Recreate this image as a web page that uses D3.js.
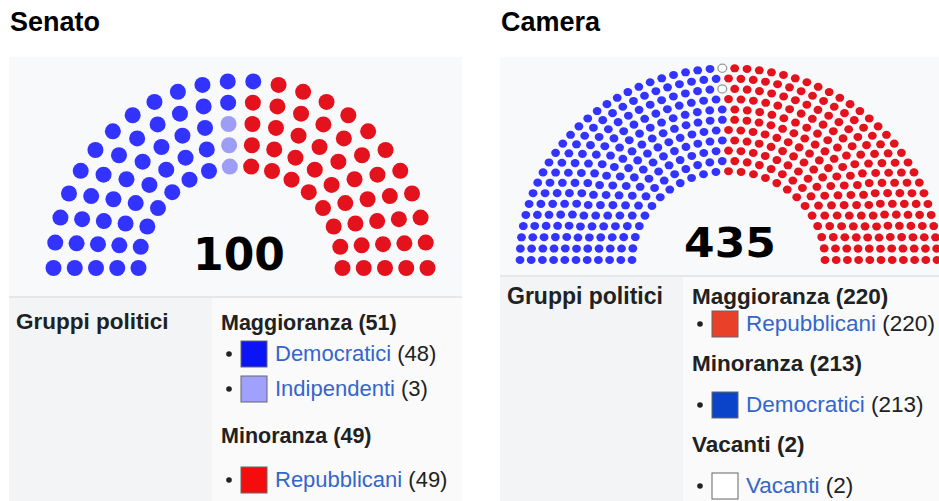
<!DOCTYPE html>
<html>
<head>
<meta charset="utf-8">
<script src="https://cdn.jsdelivr.net/npm/d3@7"></script>
<style>
  body { margin: 0; background: #fff; }
  svg text { font-family: "Liberation Sans", Arial, sans-serif; fill: #202122; }
  .title { font-size: 27px; font-weight: bold; fill: #000; }
  .head { font-weight: bold; }
  .link { fill: #3366cc; }
  .total { font-family: "DejaVu Sans", sans-serif; font-weight: bold; font-size: 44px; fill: #000; }
</style>
</head>
<body>
<div id="chart"></div>
<script>
// Senato
var senateParties = ["Democratici", "Indipendenti", "Repubblicani"]
var senateSeats = [48, 3, 49]
// seats per ring, outer ring first, and how each ring is split between the parties (left to right)
var senateRings = [24, 22, 20, 18, 16]
var senateRingSplit = [[13, 0, 11], [11, 0, 11], [9, 1, 10], [8, 1, 9], [7, 1, 8]]
var senateBlocs = ["Maggioranza", "Minoranza"]
var senateBlocSeats = [51, 49]
var senateBlocParties = [[0, 1], [2]]

// Camera
var houseParties = ["Democratici", "Vacanti", "Repubblicani"]
var houseSeats = [213, 2, 220]
var houseRings = [54, 51, 48, 45, 42, 40, 37, 34, 31, 28, 25]
var houseBlocs = ["Maggioranza", "Minoranza", "Vacanti"]
var houseBlocSeats = [220, 213, 2]
var houseBlocParties = [[2], [0], [1]]

var width = 939,
  height = 501

var svg = d3.select("#chart")
  .append("svg")
  .attr("width", width)
  .attr("height", height)

function seatLayout(rings, innerRatio) {
  var ringR = d3.scaleLinear().domain([0, rings.length - 1]).range([1, innerRatio])
  var seats = []
  rings.forEach(function (n, k) {
    var angle = d3.scaleLinear().domain([0, n - 1]).range([Math.PI, 0])
    d3.range(n).forEach(function (j) {
      seats.push({ ring: k, index: j, angle: angle(j), r: ringR(k) })
    })
  })
  return seats
}

// party of each seat from a per-ring split
function assignBySplit(seats, split) {
  seats.forEach(function (s) {
    var cum = d3.cumsum(split[s.ring])
    s.party = d3.bisectRight(cum, s.index)
  })
}

// party of each seat from the seat order, left to right
function assignByAngle(seats, counts) {
  var cum = d3.cumsum(counts)
  seats.slice().sort(function (a, b) {
    return b.angle - a.angle || a.ring - b.ring
  }).forEach(function (s, i) {
    s.party = d3.bisectRight(cum, i)
  })
}

function drawChamber(cfg) {
  var g = svg.append("g")

  g.append("text")
    .attr("class", "title")
    .attr("x", cfg.left + 1)
    .attr("y", 31)
    .text(cfg.title)

  g.append("rect")
    .attr("x", cfg.left)
    .attr("y", 57)
    .attr("width", cfg.right - cfg.left)
    .attr("height", height - 57)
    .attr("fill", "#f8f9fa")

  g.append("rect")
    .attr("x", cfg.left)
    .attr("y", cfg.tableTop)
    .attr("width", cfg.split - cfg.left)
    .attr("height", height - cfg.tableTop)
    .attr("fill", "#f3f4f5")

  g.append("rect")
    .attr("x", cfg.split)
    .attr("y", cfg.tableTop)
    .attr("width", cfg.right - cfg.split)
    .attr("height", height - cfg.tableTop)
    .attr("fill", "#fafafa")

  g.append("line")
    .attr("x1", cfg.left)
    .attr("x2", cfg.right)
    .attr("y1", cfg.tableTop)
    .attr("y2", cfg.tableTop)
    .attr("stroke", "#e6e7e9")
    .attr("stroke-width", 2)

  var x = d3.scaleLinear().domain([-1, 1]).range([cfg.cx - cfg.R, cfg.cx + cfg.R])
  var y = d3.scaleLinear().domain([0, 1]).range([cfg.cy, cfg.cy - cfg.R * cfg.squish])

  g.selectAll(".seat")
    .data(cfg.seats)
    .enter()
    .append("ellipse")
    .attr("class", "seat")
    .attr("cx", function (d) {
      return x(d.r * Math.cos(d.angle))
    })
    .attr("cy", function (d) {
      return y(d.r * Math.sin(d.angle))
    })
    .attr("rx", cfg.dot)
    .attr("ry", cfg.dot * cfg.squish)
    .attr("fill", function (d) {
      return cfg.seatColors[d.party]
    })
    .attr("stroke", function (d) {
      return cfg.seatStroke[d.party]
    })
    .attr("stroke-width", 1.3)

  g.append("text")
    .attr("class", "total")
    .attr("text-anchor", "middle")
    .attr("transform", "translate(" + cfg.totalX + "," + cfg.totalY + ") scale(1," + cfg.squish + ")")
    .text(d3.sum(cfg.counts))

  g.append("text")
    .attr("class", "head")
    .attr("x", cfg.left + 7)
    .attr("y", cfg.groupsY)
    .style("font-size", cfg.groupsSize + "px")
    .text("Gruppi politici")

  var ypos = cfg.firstHead
  cfg.blocs.forEach(function (bloc, b) {
    g.append("text")
      .attr("class", "head")
      .attr("x", cfg.split + 9)
      .attr("y", ypos)
      .style("font-size", cfg.headSize + "px")
      .text(bloc + " (" + cfg.blocSeats[b] + ")")
    ypos += b === 0 ? cfg.tightGap : cfg.looseGap
    cfg.blocParties[b].forEach(function (p, i) {
      if (i > 0) ypos += cfg.itemStep
      var row = g.append("g").attr("transform", "translate(" + (cfg.split + 17) + "," + ypos + ")")
      row.append("circle").attr("r", 2.8).attr("fill", "#202122")
      row.append("rect")
        .attr("x", 12)
        .attr("y", -13)
        .attr("width", 26)
        .attr("height", 26)
        .attr("fill", cfg.swatchColors[p])
        .attr("stroke", "#666")
        .attr("stroke-width", 1)
      var t = row.append("text")
        .attr("x", 46)
        .attr("y", 7)
        .style("font-size", cfg.itemSize + "px")
      t.append("tspan").attr("class", "link").text(cfg.parties[p])
      t.append("tspan").text(" (" + cfg.counts[p] + ")")
    })
    ypos += cfg.blocGap
  })
}

var senateLayout = seatLayout(senateRings, 102 / 187)
assignBySplit(senateLayout, senateRingSplit)

drawChamber({
  title: "Senato",
  left: 9, right: 462, split: 212, tableTop: 297,
  cx: 240.5, cy: 268, R: 187, squish: 1, dot: 8,
  seats: senateLayout,
  seatColors: ["#3333ff", "#9d9df5", "#e3121c"],
  seatStroke: ["none", "none", "none"],
  totalX: 239, totalY: 270,
  counts: senateSeats,
  parties: senateParties,
  swatchColors: ["#0a14f5", "#a0a0ff", "#f50d0d"],
  blocs: senateBlocs, blocSeats: senateBlocSeats, blocParties: senateBlocParties,
  groupsSize: 22.5, headSize: 21.5, itemSize: 22,
  groupsY: 329, firstHead: 330, tightGap: 24, looseGap: 37, itemStep: 35, blocGap: 54
})

var houseLayout = seatLayout(houseRings, 96.5 / 208.5)
assignByAngle(houseLayout, houseSeats)

drawChamber({
  title: "Camera",
  left: 500, right: 945, split: 683, tableTop: 276,
  cx: 728.5, cy: 260, R: 208.5, squish: 0.92, dot: 4.4,
  seats: houseLayout,
  seatColors: ["#3333ff", "#ffffff", "#e3121c"],
  seatStroke: ["none", "#999", "none"],
  totalX: 730, totalY: 257,
  counts: houseSeats,
  parties: houseParties,
  swatchColors: ["#0b44c8", "#ffffff", "#e9402a"],
  blocs: houseBlocs, blocSeats: houseBlocSeats, blocParties: houseBlocParties,
  groupsSize: 23, headSize: 22.5, itemSize: 22.5,
  groupsY: 304, firstHead: 304, tightGap: 20, looseGap: 34, itemStep: 35, blocGap: 47
})
</script>
</body>
</html>
